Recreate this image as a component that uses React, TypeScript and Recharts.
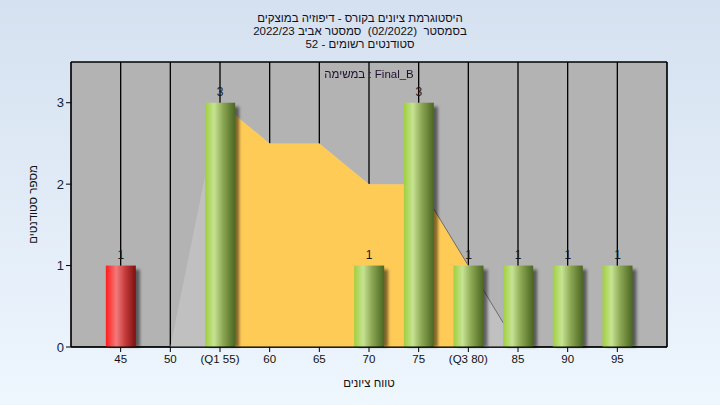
import {Area, Bar, CartesianGrid, ComposedChart, LabelList, XAxis, YAxis} from "recharts";

// histogram buckets (grade ranges)
const grades = [45, 50, 55, 60, 65, 70, 75, 80, 85, 90, 95];
const tickLabels = ["45", "50", "(Q1 55)", "60", "65", "70", "75", "(Q3 80)", "85", "90", "95"];
const counts = [1, 0, 3, 0, 0, 1, 3, 1, 1, 1, 1];
// smoothed distribution shown behind the bars
const curve = [0, 0, 3, 2.5, 2.5, 2, 2, 1, 0, 0, 0];
const iqrCurve = [null, null, 3, 2.5, 2.5, 2, 2, 1, null, null, null];
const edgeLine = [null, null, null, null, null, null, 2, 1, 0, null, null];

const titleLines = [
  "היסטוגרמת ציונים בקורס - דיפוזיה במוצקים",
  "בסמסטר  (02/2022)  סמסטר אביב 2022/23",
  "סטודנטים רשומים - 52",
];
const legendText = "Final_B : במשימה";
const xTitle = "טווח ציונים";
const yTitle = "מספר סטודנטים";

const data = grades.map((g, i) => ({
  grade: g,
  count: counts[i],
  curve: curve[i],
  iqr: iqrCurve[i],
  edge: edgeLine[i],
}));

const FONT = "'Liberation Sans', 'DejaVu Sans', Arial, sans-serif";

function CylinderBar(props: any) {
  const {x, y, width, height, payload} = props;
  if (!height || height <= 0) return null;
  const failed = payload.grade < 55;
  const id = `g${payload.grade}`;
  const stops = failed
    ? [["0", "#ff1c1c"], ["0.35", "#f27a7a"], ["0.65", "#c43a3a"], ["1", "#7a1010"]]
    : [["0", "#9fcf3e"], ["0.3", "#c6e393"], ["0.6", "#8ba652"], ["1", "#4b6621"]];
  return (
    <g>
      <defs>
        <linearGradient id={id} x1="0" y1="0" x2="1" y2="0">
          {stops.map(([o, c]) => <stop key={o} offset={o} stopColor={c}/>)}
        </linearGradient>
        <filter id={`s${id}`} x="-50%" y="-20%" width="200%" height="140%">
          <feGaussianBlur stdDeviation="1.8"/>
        </filter>
      </defs>
      <rect x={x + 4} y={y + 4} width={width} height={height - 4} fill="#000" opacity={0.5} filter={`url(#s${id})`}/>
      <rect x={x} y={y} width={width} height={height} fill={`url(#${id})`}/>
    </g>
  );
}

export default function App() {
  return (
    <div style={{
      position: "fixed", left: 0, top: 0, width: 720, height: 405,
      background: "linear-gradient(#d5e1f0, #eef6fe)", fontFamily: FONT,
    }}>
      <div dir="rtl" style={{
        position: "absolute", left: 0, top: 12, width: 720, textAlign: "center",
        fontSize: 11.5, lineHeight: "13px", color: "#101020", whiteSpace: "pre",
      }}>
        {titleLines.map(t => <div key={t}>{t}</div>)}
      </div>
      <ComposedChart width={720} height={405} data={data}
                     margin={{top: 62, right: 13, bottom: 18, left: 20}}>
        <CartesianGrid fill="#b3b3b3" stroke="#000" strokeWidth={1.3}/>
        <XAxis dataKey="grade" type="number" domain={[40, 100]} ticks={grades}
               tickFormatter={(v: number) => tickLabels[grades.indexOf(v)] ?? ""}
               height={40} tickSize={5} tickMargin={3} stroke="#000"
               tick={{fill: "#111", fontSize: 11.5, fontFamily: FONT}}
               label={{value: xTitle, position: "insideBottom", offset: 0, fill: "#111", fontSize: 11.5, fontFamily: FONT}}/>
        <YAxis yAxisId="left" domain={[0, 3.5]} ticks={[0, 1, 2, 3]} width={51}
               tickSize={5} tickMargin={2} stroke="#000"
               tick={{fill: "#10203a", fontSize: 13, fontFamily: FONT}}
               label={{value: yTitle, angle: -90, position: "insideLeft", offset: 13, fill: "#111", fontSize: 11.5, fontFamily: FONT, style: {textAnchor: "middle"}}}/>
        <YAxis yAxisId="right" orientation="right" domain={[0, 3.5]} ticks={[0, 1, 2, 3]} width={40}
               tickSize={5} tickMargin={2} stroke="#000"
               tick={{fill: "#111", fontSize: 13, fontFamily: FONT}}/>
        <Area yAxisId="left" dataKey="curve" type="linear" fill="#c0c0c0" fillOpacity={1}
              stroke="none" isAnimationActive={false}/>
        <Area yAxisId="left" dataKey="iqr" type="linear" fill="#ffcb57" fillOpacity={1}
              stroke="none" isAnimationActive={false}/>
        <Area yAxisId="left" dataKey="edge" type="linear" fill="none" stroke="#6c6c6c" strokeWidth={1}
              dot={false} activeDot={false} isAnimationActive={false}/>
        <Bar yAxisId="left" dataKey="count" barSize={30} shape={CylinderBar} isAnimationActive={false}>
          <LabelList dataKey="count" position="top" offset={7}
                     formatter={(v: any) => (v ? v : "")}
                     style={{fill: "#1a1a1a", fontSize: 12, fontFamily: FONT}}/>
        </Bar>
      </ComposedChart>
      <div dir="rtl" style={{
        position: "absolute", left: 9, top: 68, width: 720, textAlign: "center",
        fontSize: 11.5, lineHeight: "13px", color: "#201030",
      }}>
        {legendText}
      </div>
    </div>
  );
}
